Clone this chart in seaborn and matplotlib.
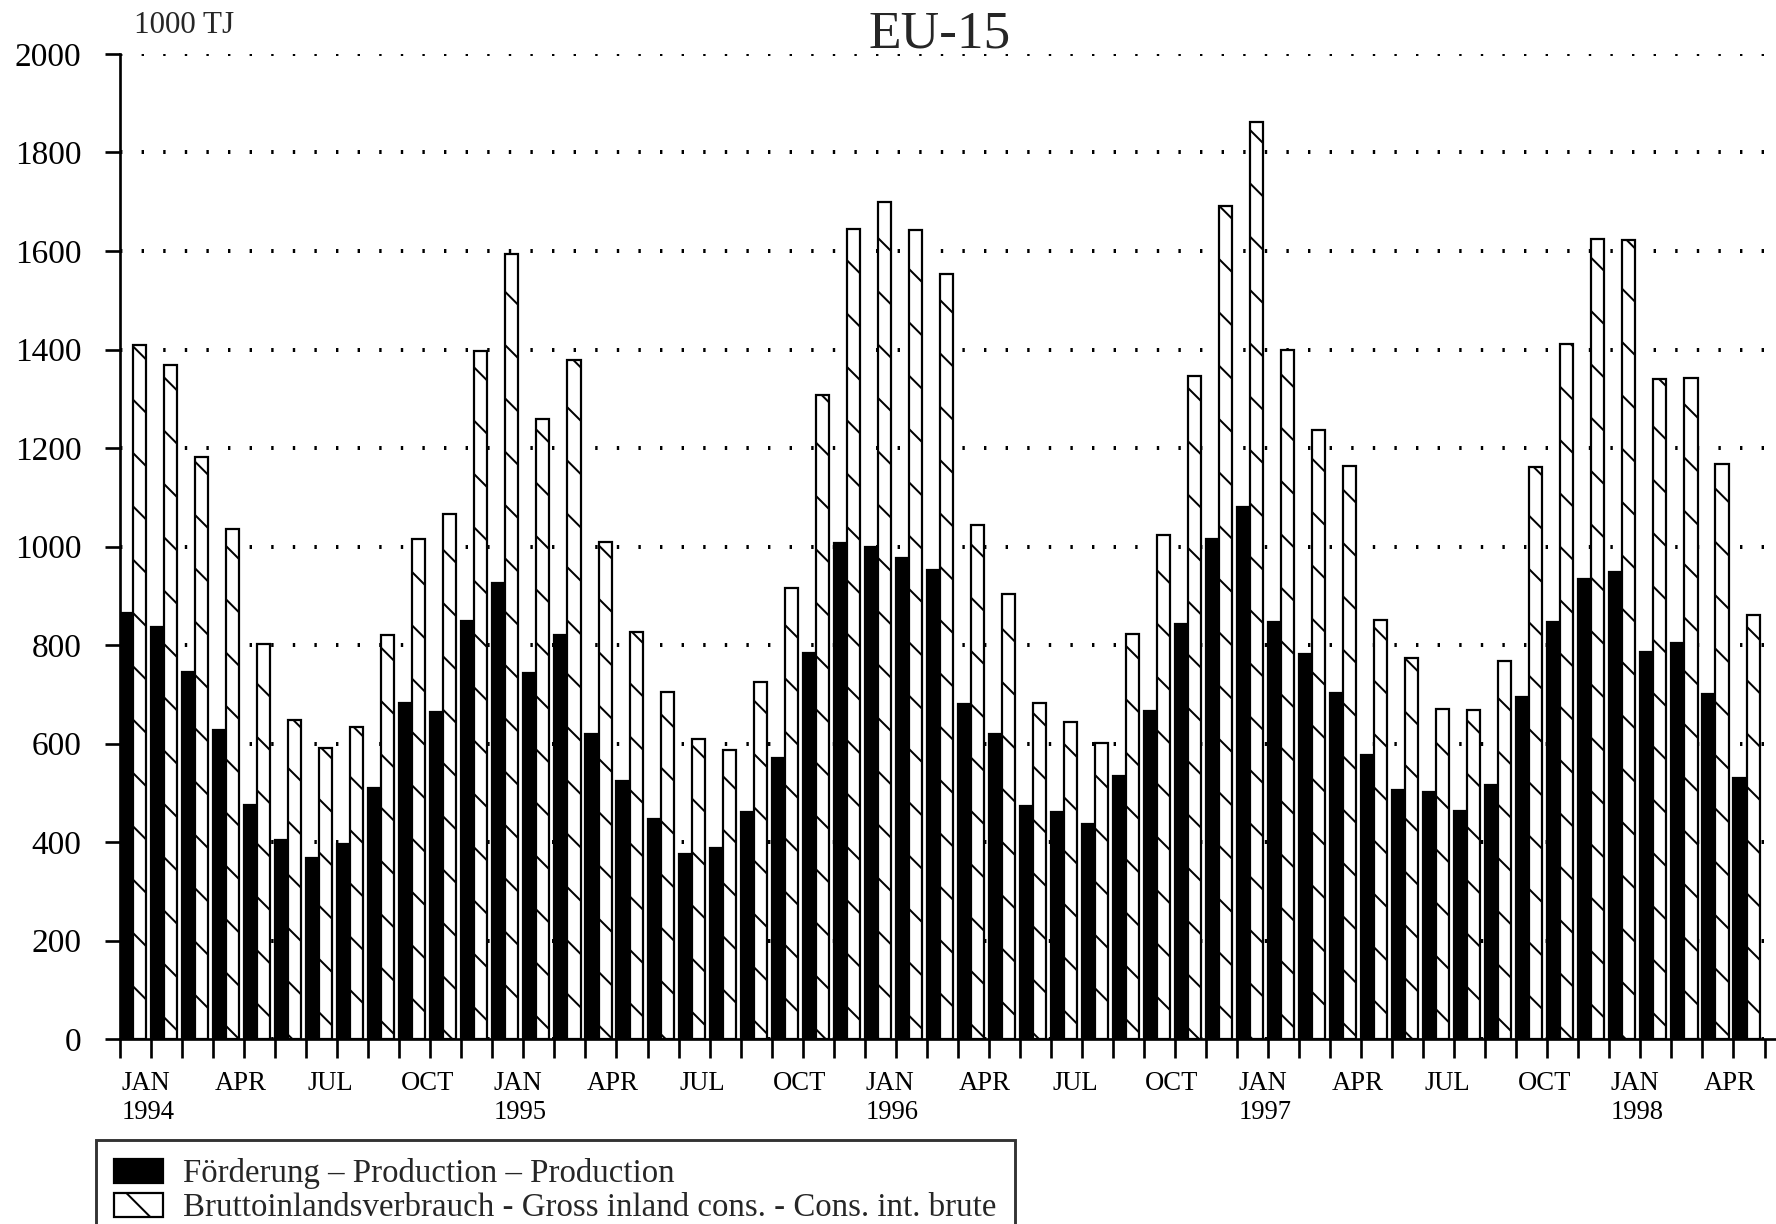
import numpy as np
import pandas as pd
import matplotlib
matplotlib.use('Agg')
import matplotlib.pyplot as plt
import seaborn as sns
from matplotlib.patches import Patch

# monthly values, 1000 TJ, JAN 1994 .. MAY 1998
production = [866, 836, 745, 627, 475, 405, 368, 397, 509, 682, 664, 848,
              926, 743, 820, 619, 523, 446, 376, 387, 460, 570, 784, 1007,
              1000, 977, 953, 681, 619, 474, 461, 436, 534, 666, 842, 1016,
              1080, 847, 781, 702, 576, 506, 501, 464, 516, 695, 846, 935,
              948, 785, 805, 700, 531]
consumption = [1409, 1368, 1182, 1036, 803, 648, 591, 634, 820, 1015, 1067, 1397,
               1593, 1258, 1379, 1009, 827, 704, 610, 587, 725, 916, 1307, 1645,
               1700, 1643, 1554, 1043, 903, 683, 644, 601, 823, 1024, 1346, 1691,
               1861, 1400, 1236, 1164, 850, 773, 671, 669, 768, 1162, 1412, 1625,
               1622, 1340, 1343, 1168, 860]
month_names = ['JAN', 'FEB', 'MAR', 'APR', 'MAY', 'JUN',
               'JUL', 'AUG', 'SEP', 'OCT', 'NOV', 'DEC']
years = [1994, 1995, 1996, 1997, 1998]
labelled_months = ['JAN', 'APR', 'JUL', 'OCT']
prod_label = 'Förderung – Production – Production'
cons_label = 'Bruttoinlandsverbrauch - Gross inland cons. - Cons. int. brute'

n = len(production)
periods = [f'{years[i // 12]}-{i % 12 + 1:02d}' for i in range(n)]
df = pd.DataFrame({
    'period': periods * 2,
    'value': production + consumption,
    'series': [prod_label] * n + [cons_label] * n,
})

sns.set_theme(style='white')
plt.rcParams['font.family'] = ['Liberation Serif', 'DejaVu Serif']
plt.rcParams['hatch.linewidth'] = 0.9
plt.rcParams['hatch.color'] = 'black'

fig = plt.figure(figsize=(11.1, 7.65), dpi=160)
ax = fig.add_axes([0.0676, 0.1511, 0.9324, 0.8048])

sns.barplot(data=df, x='period', y='value', hue='series', order=periods,
            hue_order=[prod_label, cons_label], palette=['black', 'white'],
            width=0.84, saturation=1, edgecolor='black', linewidth=1.0,
            legend=False, ax=ax)

for bar in ax.containers[1]:
    bar.set_hatch('\\')

# axes styling
ax.set_ylim(0, 2000)
ax.set_xlim(-0.42, 52.95)
ax.set_yticks(np.arange(0, 2001, 200))
ax.tick_params(axis='y', direction='out', length=6.6, width=1.2, pad=10.7,
               labelsize=15, left=True, color='black', labelcolor='black')
ax.yaxis.grid(True, linestyle=(0, (0.6, 4.8)), linewidth=1.8, color='black')
ax.xaxis.grid(False)
ax.set_axisbelow(True)

ax.set_xticks(np.arange(n + 1) - 0.42, minor=True)
pos, labs = [], []
for i in range(n):
    m = month_names[i % 12]
    if m in labelled_months:
        pos.append(i - 0.38)
        labs.append(f'{m}\n{years[i // 12]}' if m == 'JAN' else m)
ax.set_xticks(pos)
ax.set_xticklabels(labs, ha='left', linespacing=1.2)
ax.tick_params(axis='x', which='major', length=0, pad=14.5, labelsize=12,
               labelcolor='black')
ax.tick_params(axis='x', which='minor', direction='out', length=8.7,
               width=1.2, color='black', bottom=True)
ax.set_xlabel('')
ax.set_ylabel('')

for s in ['top', 'right']:
    ax.spines[s].set_visible(False)
for s in ['left', 'bottom']:
    ax.spines[s].set_color('black')
    ax.spines[s].set_linewidth(1.2)

fig.text(0.529, 0.961, 'EU-15', ha='center', va='baseline', fontsize=24)
fig.text(0.0755, 0.973, '1000 TJ', ha='left', va='baseline', fontsize=14)

handles = [Patch(facecolor='black', edgecolor='black'),
           Patch(facecolor='white', edgecolor='black', hatch='\\')]
leg = fig.legend(handles, [prod_label, cons_label], loc='upper left',
                 bbox_to_anchor=(0.054, 0.0685), frameon=True, fancybox=False,
                 edgecolor='black', fontsize=14.8, handlelength=1.5,
                 handleheight=0.77, handletextpad=0.6, labelspacing=0.1,
                 borderpad=0.55, borderaxespad=0)
leg.get_frame().set_linewidth(1.3)

fig.savefig('out.png', dpi=160, facecolor='white')
